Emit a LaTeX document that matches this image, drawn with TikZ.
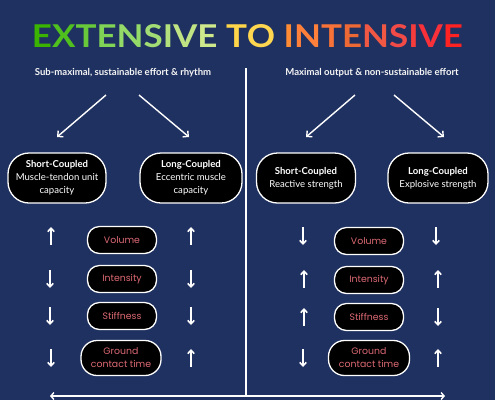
\documentclass[tikz,border=0pt]{standalone}
\usepackage{fontspec}
\setmainfont{Lato}
\newfontfamily\pillfont{Poppins}
\usetikzlibrary{arrows.meta}
\definecolor{bgnavy}{RGB}{31,49,96}
\definecolor{pilltext}{RGB}{222,106,116}
\definecolor{tA}{RGB}{58,180,0}
\definecolor{tB}{RGB}{80,192,30}
\definecolor{tC}{RGB}{104,202,58}
\definecolor{tD}{RGB}{128,212,86}
\definecolor{tE}{RGB}{148,218,104}
\definecolor{tF}{RGB}{162,220,116}
\definecolor{tG}{RGB}{178,224,124}
\definecolor{tH}{RGB}{192,228,132}
\definecolor{tI}{RGB}{206,232,140}
\definecolor{tJ}{RGB}{255,214,74}
\definecolor{tK}{RGB}{255,214,80}
\definecolor{tL}{RGB}{255,140,52}
\definecolor{tM}{RGB}{255,128,58}
\definecolor{tN}{RGB}{246,114,56}
\definecolor{tO}{RGB}{236,104,52}
\definecolor{tP}{RGB}{240,88,68}
\definecolor{tQ}{RGB}{242,74,70}
\definecolor{tR}{RGB}{244,60,60}
\definecolor{tS}{RGB}{248,48,58}
\definecolor{tT}{RGB}{255,34,34}
\tikzset{
  x=1bp, y=-1bp,
  wline/.style={draw=white, line width=1.4bp},
  warrow/.style={white, line width=1.4bp, -{Straight Barb[length=4bp,width=8bp]}},
  varrow/.style={white, line width=1.6bp, -{Straight Barb[length=3.5bp,width=6.5bp]}},
  bigoval/.style={draw=white, fill=black, line width=1.3bp, rounded corners=21bp,
    minimum height=50bp, align=center, text=white, font=\fontsize{9.6}{13}\selectfont, inner sep=2bp},
  pill/.style={draw=white, fill=black, line width=1.3bp, rounded corners=12bp,
    minimum width=69bp, minimum height=27bp, align=center, text=pilltext,
    font=\pillfont\fontsize{9.4}{13}\selectfont, inner sep=1bp},
  subtitle/.style={text=white!92!gray, font=\bfseries\fontsize{9.6}{11}\selectfont},
}
\begin{document}
\begin{tikzpicture}
\useasboundingbox (0,0) rectangle (495,400);
\fill[bgnavy] (0,0) rectangle (495,400);

% title
\node[inner sep=0pt] (title) at (247.5,36.5) {\resizebox{431bp}{23bp}{\bfseries\fontsize{30}{34}\selectfont
\textcolor{tA}{E}\textcolor{tB}{X}\textcolor{tC}{T}\textcolor{tD}{E}\textcolor{tE}{N}\textcolor{tF}{S}\textcolor{tG}{I}\textcolor{tH}{V}\textcolor{tI}{E}
\textcolor{tJ}{T}\textcolor{tK}{O}
\textcolor{tL}{I}\textcolor{tM}{N}\textcolor{tN}{T}\textcolor{tO}{E}\textcolor{tP}{N}\textcolor{tQ}{S}\textcolor{tR}{I}\textcolor{tS}{V}\textcolor{tT}{E}}};

% subtitles
\node[subtitle] (subL) at (123,73) {Sub-maximal, sustainable effort \& rhythm};
\node[subtitle] (subR) at (372,73) {Maximal output \& non-sustainable effort};

% divider and bottom axis
\coordinate (divtop) at (246,68);
\coordinate (divbot) at (246,396);
\coordinate (axL) at (50,396);
\coordinate (axR) at (445,396);
\draw[wline] (divtop) -- (divbot);
\draw[white, line width=1.4bp, {Straight Barb[length=3bp,width=7bp]}-{Straight Barb[length=3bp,width=7bp]}] (axL) -- (axR);

% diagonal arrows
\coordinate (dL1s) at (106,95); \coordinate (dL1e) at (57,137);
\coordinate (dL2s) at (139,95); \coordinate (dL2e) at (189,137);
\coordinate (dR1s) at (355,95); \coordinate (dR1e) at (306,137);
\coordinate (dR2s) at (394,95); \coordinate (dR2e) at (444,137);
\draw[warrow] (dL1s) -- (dL1e);
\draw[warrow] (dL2s) -- (dL2e);
\draw[warrow] (dR1s) -- (dR1e);
\draw[warrow] (dR2s) -- (dR2e);

% big ovals
\node[bigoval, minimum width=98bp] (scL) at (57,178) {\textbf{Short-Coupled}\\Muscle-tendon unit\\capacity};
\node[bigoval, minimum width=102bp] (lcL) at (191,178) {\textbf{Long-Coupled}\\Eccentric muscle\\capacity};
\node[bigoval, minimum width=99bp] (scR) at (306,178) {\textbf{Short-Coupled}\\Reactive strength};
\node[bigoval, minimum width=100bp] (lcR) at (438,178) {\textbf{Long-Coupled}\\Explosive strength};

% pills left
\node[pill] (volL) at (122,240) {Volume};
\node[pill] (intL) at (122,279) {Intensity};
\node[pill] (stiL) at (122,316) {Stiffness};
\node[pill, minimum width=80bp, minimum height=35bp, rounded corners=16bp] (gctL) at (121,358) {Ground\\contact time};
% pills right
\node[pill] (volR) at (369,241) {Volume};
\node[pill] (intR) at (369,280) {Intensity};
\node[pill] (stiR) at (369,317) {Stiffness};
\node[pill, minimum width=81bp, minimum height=35bp, rounded corners=16bp] (gctR) at (369,358) {Ground\\contact time};

% vertical arrows: up = from bottom to top
\newcommand{\upar}[3]{\coordinate (#3a) at (#1,#2+9); \coordinate (#3b) at (#1,#2-9); \draw[varrow] (#3a) -- (#3b);}
\newcommand{\dnar}[3]{\coordinate (#3a) at (#1,#2-9); \coordinate (#3b) at (#1,#2+9); \draw[varrow] (#3a) -- (#3b);}
% left column 1 (x=51)
\upar{51}{236}{a1}
\dnar{50}{279}{a2}
\dnar{50}{316}{a3}
\dnar{51}{358}{a4}
% left column 2 (x=191)
\upar{191}{236}{b1}
\dnar{191}{279}{b2}
\dnar{191}{316}{b3}
\upar{191}{358}{b4}
% right column 1 (x=303)
\dnar{303}{236}{c1}
\upar{304}{279}{c2}
\upar{304}{317}{c3}
\dnar{303}{358}{c4}
% right column 2 (x=437)
\dnar{436}{236}{d1}
\upar{438}{279}{d2}
\dnar{438}{317}{d3}
\upar{438}{358}{d4}
\end{tikzpicture}
\end{document}
